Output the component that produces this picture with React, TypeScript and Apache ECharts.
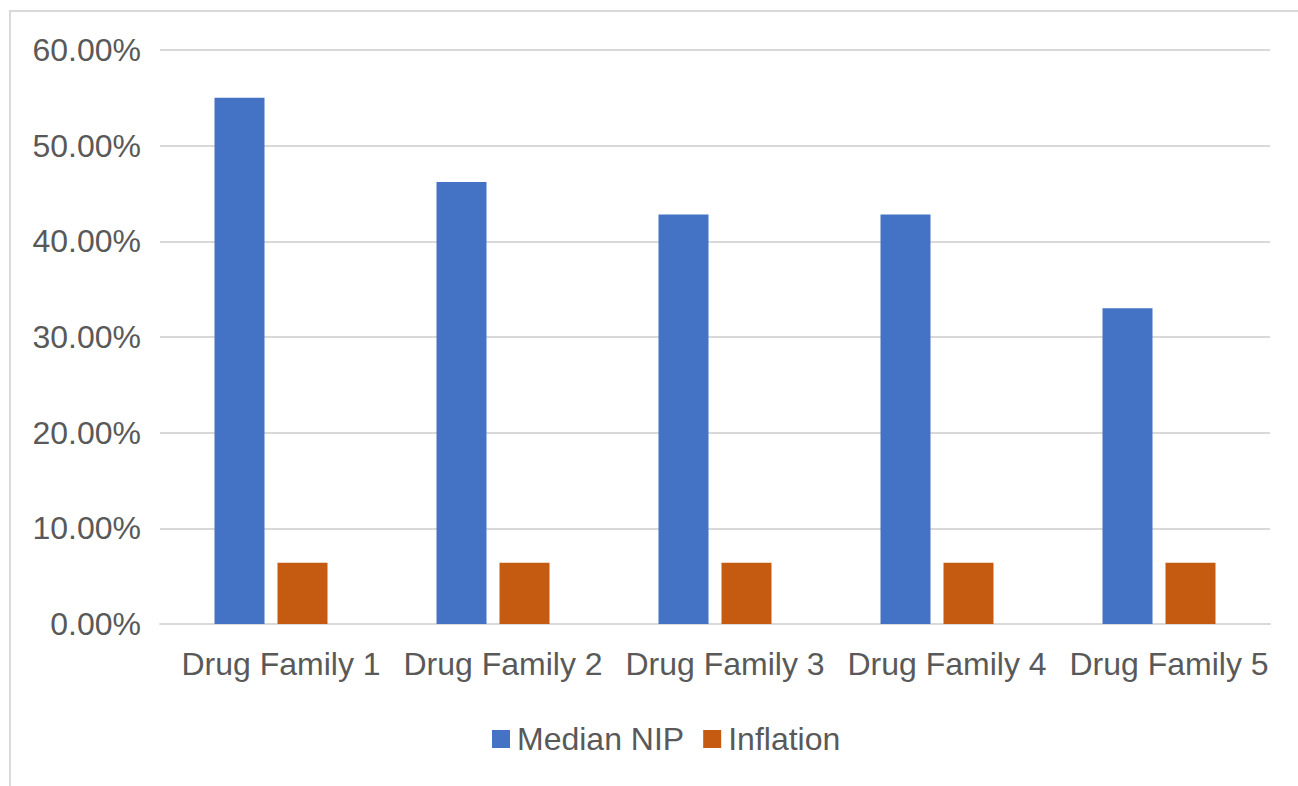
import React, { useEffect, useRef } from "react";
import * as echarts from "echarts";

const categories = ["Drug Family 1", "Drug Family 2", "Drug Family 3", "Drug Family 4", "Drug Family 5"];
const medianNIP = [0.55, 0.462, 0.428, 0.428, 0.33];
const inflation = [0.064, 0.064, 0.064, 0.064, 0.064];
const seriesNames = ["Median NIP", "Inflation"];
const yMax = 0.6;
const yInterval = 0.1;

const FONT = "Arial, 'Liberation Sans', sans-serif";
const TEXT = "#595959";
const GRID = "#d9d9d9";

export default function App() {
  const ref = useRef<HTMLDivElement>(null);
  useEffect(() => {
    if (!ref.current) return;
    const chart = echarts.init(ref.current, undefined, { renderer: "svg" });
    chart.setOption({
      animation: false,
      backgroundColor: "#ffffff",
      textStyle: { fontFamily: FONT },
      graphic: [
        {
          type: "rect",
          shape: { x: 10, y: 11, width: 1400, height: 900 },
          style: { fill: "none", stroke: GRID, lineWidth: 2 },
          silent: true,
        },
      ],
      legend: {
        data: seriesNames,
        left: 487,
        top: 718,
        itemWidth: 18,
        itemHeight: 18,
        itemGap: 19,
        icon: "rect",
        textStyle: { color: TEXT, fontSize: 32, fontFamily: FONT, padding: [0, 0, 0, 2] },
      },
      grid: { left: 160, right: 28, top: 50, bottom: 162, containLabel: false },
      xAxis: {
        type: "category",
        data: categories,
        axisLine: { show: true, lineStyle: { color: GRID, width: 2 } },
        axisTick: { show: false },
        axisLabel: {
          color: TEXT,
          fontSize: 32,
          fontFamily: FONT,
          margin: 24,
          interval: 0,
          padding: [0, 0, 0, 20],
        },
      },
      yAxis: {
        type: "value",
        min: 0,
        max: yMax,
        interval: yInterval,
        axisLine: { show: false },
        axisTick: { show: false },
        splitLine: { lineStyle: { color: GRID, width: 2 } },
        axisLabel: {
          color: TEXT,
          fontSize: 32,
          fontFamily: FONT,
          margin: 19,
          formatter: (v: number) => (v * 100).toFixed(2) + "%",
        },
      },
      series: [
        {
          name: seriesNames[0],
          type: "bar",
          data: medianNIP,
          barWidth: 50,
          barGap: "26%",
          itemStyle: { color: "#4472C4" },
        },
        {
          name: seriesNames[1],
          type: "bar",
          data: inflation,
          barWidth: 50,
          barGap: "26%",
          itemStyle: { color: "#C55A11" },
        },
      ],
    });
    return () => chart.dispose();
  }, []);
  return (
    <div
      ref={ref}
      style={{ position: "fixed", left: 0, top: 0, width: 1298, height: 786, background: "#fff" }}
    />
  );
}
